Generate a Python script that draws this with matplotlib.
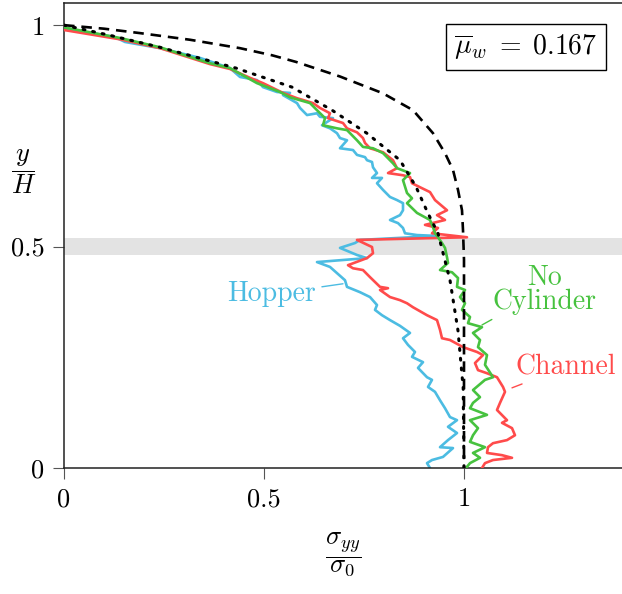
import matplotlib
matplotlib.use("Agg")
import matplotlib.pyplot as plt

plt.rcParams["font.family"] = "serif"
plt.rcParams["font.serif"] = ["cmr10"]
plt.rcParams["mathtext.fontset"] = "cm"
plt.rcParams["axes.unicode_minus"] = False

# DATA (sigma_yy / sigma_0 against y / H)
hopper_x = [0, 0.1275, 0.1525, 0.24, 0.34, 0.415, 0.44, 0.4825, 0.4975, 0.5325, 0.565, 0.5475,
            0.5825, 0.59, 0.6075, 0.6325, 0.64, 0.6725, 0.645, 0.665, 0.6825, 0.69, 0.7075, 0.69,
            0.7225, 0.7325, 0.7525, 0.7575, 0.77, 0.7725, 0.7825, 0.77, 0.795, 0.7825, 0.7975,
            0.815, 0.8325, 0.8475, 0.8475, 0.84, 0.815, 0.835, 0.8475, 0.8525, 0.8825, 0.9325,
            0.74, 0.7275, 0.69, 0.7325, 0.7575, 0.6325, 0.665, 0.6825, 0.7025, 0.7075, 0.74,
            0.765, 0.7825, 0.7775, 0.795, 0.815, 0.84, 0.865, 0.8475, 0.86, 0.8775, 0.87, 0.8975,
            0.885, 0.9075, 0.92, 0.91, 0.9275, 0.94, 0.9525, 0.965, 0.9825, 0.96, 0.9825, 0.96,
            0.94, 0.9725, 0.9475, 0.92, 0.9075, 0.915]
hopper_y = [0.993, 0.973, 0.962, 0.948, 0.926, 0.903, 0.883, 0.876, 0.860, 0.849, 0.847, 0.842,
            0.824, 0.813, 0.797, 0.801, 0.793, 0.790, 0.774, 0.767, 0.756, 0.745, 0.740, 0.722,
            0.718, 0.707, 0.702, 0.695, 0.691, 0.679, 0.666, 0.655, 0.655, 0.643, 0.628,
            0.612, 0.605, 0.598, 0.582, 0.571, 0.560, 0.553, 0.542, 0.530, 0.526, 0.524,
            0.515, 0.508, 0.497, 0.481, 0.474, 0.465, 0.454, 0.440, 0.424, 0.409, 0.397,
            0.386, 0.368, 0.357, 0.345, 0.334, 0.321, 0.305, 0.293, 0.278, 0.262, 0.251, 0.239,
            0.226, 0.205, 0.199, 0.183, 0.172, 0.153, 0.135, 0.115, 0.108, 0.093, 0.079, 0.063,
            0.047, 0.045, 0.025, 0.018, 0.011, 0.0]

channel_x = [0, 0.14, 0.24, 0.365, 0.415, 0.465, 0.4975, 0.5475, 0.5825, 0.5975, 0.6225, 0.64,
             0.665, 0.66, 0.6975, 0.7075, 0.7325, 0.7475, 0.7525, 0.765, 0.7975, 0.8225, 0.8325,
             0.81, 0.8475, 0.865, 0.87, 0.89, 0.915, 0.9275, 0.9575, 0.9325, 0.9525, 0.9025,
             0.935, 0.92, 1.0075, 0.7325, 0.77, 0.7725, 0.7575, 0.71, 0.7225, 0.7475, 0.765,
             0.79, 0.81, 0.79, 0.815, 0.84, 0.8575, 0.8725, 0.9075, 0.9325, 0.94, 0.945, 0.965,
             0.9975, 1.0325, 1.0475, 1.0275, 1.035, 1.0575, 1.0825, 1.0975, 1.1025, 1.09, 1.0825,
             1.1075, 1.095, 1.12, 1.1275, 1.1075, 1.0725, 1.06, 1.0575, 1.095, 1.12, 1.0725,
             1.0525, 1.045]
channel_y = [0.989, 0.968, 0.948, 0.912, 0.901, 0.881, 0.869, 0.847, 0.835, 0.831, 0.824, 0.813,
             0.801, 0.790, 0.779, 0.767, 0.758, 0.745, 0.734, 0.722, 0.713, 0.695, 0.677,
             0.666, 0.661, 0.657, 0.643, 0.634, 0.623, 0.605, 0.582, 0.571, 0.560, 0.549,
             0.542, 0.530, 0.521, 0.515, 0.499, 0.485, 0.474, 0.458, 0.451, 0.447, 0.431,
             0.409, 0.406, 0.402, 0.386, 0.379, 0.372, 0.363, 0.345, 0.334, 0.312, 0.293, 0.289,
             0.273, 0.262, 0.255, 0.237, 0.221, 0.214, 0.205, 0.183, 0.172, 0.147, 0.131,
             0.108, 0.102, 0.090, 0.074, 0.063, 0.056, 0.047, 0.034, 0.029, 0.023, 0.018,
             0.011, 0.0]

nocyl_x = [0, 0.14, 0.24, 0.365, 0.415, 0.4825, 0.54, 0.565, 0.615, 0.6325, 0.6525, 0.6475,
           0.6825, 0.7075, 0.7325, 0.7475, 0.7725, 0.7975, 0.8225, 0.8325, 0.865, 0.8475, 0.8575,
           0.87, 0.8575, 0.8825, 0.915, 0.9225, 0.9275, 0.935, 0.945, 0.9525, 0.9575, 0.96,
           0.94, 0.97, 0.985, 0.9825, 1.0025, 0.99, 1.0025, 0.995, 1.015, 1.01, 1.045, 1.0225,
           1.04, 1.035, 1.0575, 1.0525, 1.0725, 1.0525, 1.0225, 1.04, 1.0225, 1.015, 1.0575,
           1.015, 1.035, 1.0225, 1.015, 1.0525, 1.0225, 1.04, 1.015, 1.005]
nocyl_y = [0.995, 0.971, 0.950, 0.914, 0.903, 0.869, 0.849, 0.837, 0.824, 0.808, 0.790, 0.774,
           0.767, 0.763, 0.740, 0.725, 0.722, 0.711, 0.688, 0.677, 0.666, 0.650, 0.621,
           0.609, 0.598, 0.576, 0.560, 0.544, 0.530, 0.521, 0.508, 0.497, 0.476, 0.463,
           0.447, 0.442, 0.429, 0.409, 0.402, 0.386, 0.372, 0.357, 0.341, 0.327, 0.318, 0.305,
           0.289, 0.273, 0.255, 0.233, 0.205, 0.199, 0.176, 0.160, 0.147, 0.135, 0.120,
           0.108, 0.090, 0.074, 0.059, 0.047, 0.034, 0.023, 0.011, 0.0]

# reference curves
dashed_x = [0, 0.1, 0.19, 0.315, 0.44, 0.52, 0.58, 0.69, 0.7975, 0.8725, 0.9225, 0.9525,
            0.9725, 0.985, 0.995, 0.9975, 1.0, 1.0]
dashed_y = [1.0, 0.992, 0.982, 0.967, 0.948, 0.932, 0.917, 0.884, 0.846, 0.808, 0.756, 0.711,
            0.673, 0.628, 0.582, 0.537, 0.47, 0.0]

dotted_x = [0, 0.115, 0.24, 0.43, 0.57, 0.67, 0.757, 0.84, 0.88, 0.91, 0.935, 0.965, 0.985, 0.998, 1.0]
dotted_y = [1.0, 0.977, 0.95, 0.903, 0.86, 0.808, 0.756, 0.695, 0.635, 0.575, 0.53, 0.424, 0.31, 0.18, 0.0]

band = (0.48, 0.52)
mu_w = 0.167

c_hopper = "#4cbce2"
c_channel = "#ff4b4b"
c_nocyl = "#47c23f"


def main():
    fig = plt.figure(figsize=(6.22, 5.94), dpi=100)
    ax = fig.add_axes([64 / 622, 126 / 594, 558 / 622, 465 / 594])

    ax.axhspan(band[0], band[1], color="#e3e3e3", lw=0, zorder=0)

    ax.plot(hopper_x, hopper_y, color=c_hopper, lw=1.9, zorder=2)
    ax.plot(channel_x, channel_y, color=c_channel, lw=1.9, zorder=3)
    ax.plot(nocyl_x, nocyl_y, color=c_nocyl, lw=1.9, zorder=4)
    ax.plot(dotted_x, dotted_y, color="black", lw=2.2, linestyle=(0, (0.6, 2.6)),
            dash_capstyle="round", zorder=5)
    ax.plot(dashed_x, dashed_y, color="black", lw=1.9, linestyle=(0, (4, 2.6)), zorder=6)

    ax.set_xlim(0, 1.395)
    ax.set_ylim(0, 1.05)
    ax.set_xticks([0, 0.5, 1])
    ax.set_xticklabels(["0", "0.5", "1"])
    ax.set_yticks([0, 0.5, 1])
    ax.set_yticklabels(["0", "0.5", "1"])
    ax.tick_params(direction="out", length=8, width=0.8, color="#555555",
                   labelsize=19, pad=6)
    ax.spines["right"].set_visible(False)
    for s in ["left", "bottom", "top"]:
        ax.spines[s].set_linewidth(1.1)
        ax.spines[s].set_color("#222222")

    ax.set_xlabel(r"$\dfrac{\sigma_{yy}}{\sigma_0}$", fontsize=19)
    ax.xaxis.set_label_coords(0.5, -0.187)
    ax.xaxis.label.set_va("center")
    ax.set_ylabel(r"$\dfrac{y}{H}$", fontsize=19, rotation=0)
    ax.yaxis.set_label_coords(-0.072, 0.637)
    ax.yaxis.label.set_va("center")
    ax.yaxis.label.set_ha("center")

    ax.text(1.155, 0.95, r"$\overline{\mu}_w\;=\;%.3f$" % mu_w, fontsize=20,
            ha="center", va="center",
            bbox=dict(boxstyle="square,pad=0.3", fc="white", ec="black", lw=1.0))

    ax.annotate("Hopper", xy=(0.6975, 0.416), xytext=(0.52, 0.393), color=c_hopper,
                fontsize=20, ha="center", va="center",
                arrowprops=dict(arrowstyle="-", color=c_hopper, lw=1.0,
                                shrinkA=2, shrinkB=0))
    ax.annotate("No\nCylinder", xy=(1.045, 0.323), xytext=(1.2025, 0.402), color=c_nocyl,
                fontsize=20, ha="center", va="center", linespacing=0.9,
                arrowprops=dict(arrowstyle="-", color=c_nocyl, lw=1.0,
                                shrinkA=2, shrinkB=0))
    ax.annotate("Channel", xy=(1.12, 0.181), xytext=(1.255, 0.228), color=c_channel,
                fontsize=20, ha="center", va="center",
                arrowprops=dict(arrowstyle="-", color=c_channel, lw=1.0,
                                shrinkA=2, shrinkB=0))

    fig.savefig("out.png", dpi=100)


if __name__ == "__main__":
    main()
